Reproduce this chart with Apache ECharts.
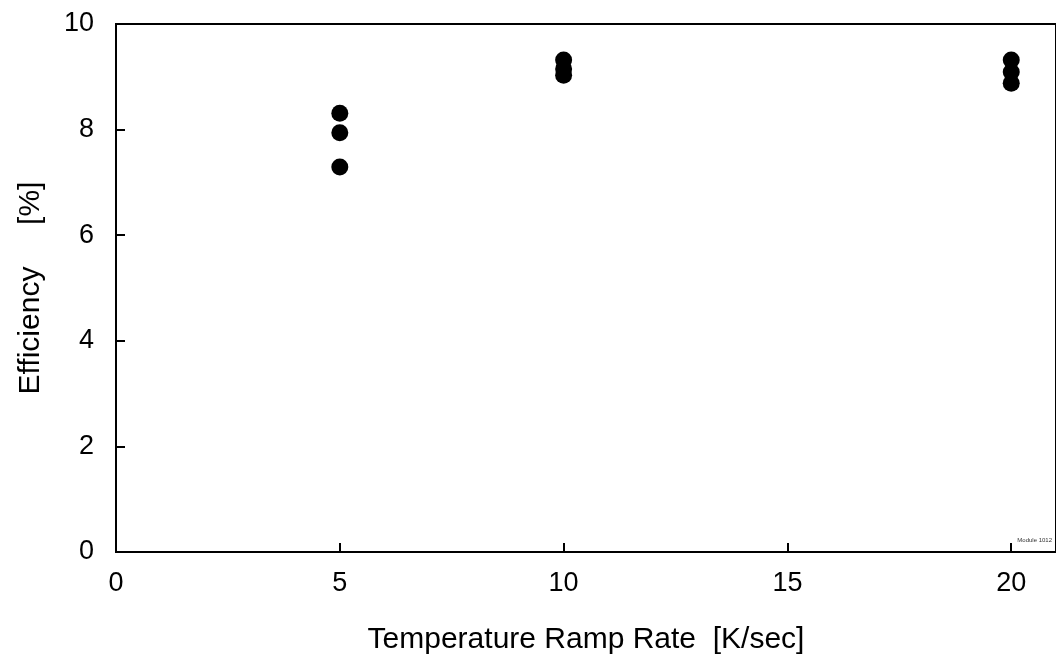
<!DOCTYPE html>
<html>
<head>
<meta charset="utf-8">
<script src="https://cdn.jsdelivr.net/npm/echarts@6/dist/echarts.min.js"></script>
<style>
  html, body { margin: 0; padding: 0; background: #fff; }
  #chart { width: 1056px; height: 668px; }
</style>
</head>
<body>
<div id="chart"></div>
<script>
// ramp rate [K/sec] and measured efficiency [%]
const rampRates = [5, 5, 5, 10, 10, 10, 20, 20, 20];
const efficiency = [8.31, 7.94, 7.29, 9.32, 9.15, 9.03, 9.32, 9.09, 8.88];
const xTicks = [0, 5, 10, 15, 20];
const yTicks = [0, 2, 4, 6, 8, 10];

const points = rampRates.map((r, i) => [r, efficiency[i]]);
const font = '"Liberation Sans", Arial, sans-serif';

let myChart = echarts.init(document.getElementById('chart'));
myChart.setOption({
    animation: false,
    grid: {
        left: 116, top: 24, bottom: 116, right: -5,
        show: true, borderColor: '#000', borderWidth: 2
    },
    xAxis: {
        type: 'value',
        min: 0, max: 21, interval: 5,
        name: 'Temperature Ramp Rate  [K/sec]',
        nameLocation: 'middle',
        nameGap: 73,
        nameTextStyle: { fontFamily: font, fontSize: 30, color: '#000' },
        axisLine: { lineStyle: { color: '#000', width: 2 } },
        axisTick: { inside: true, length: 9, lineStyle: { color: '#000', width: 2 } },
        axisLabel: {
            fontFamily: font, fontSize: 27, color: '#000', margin: 18,
            showMaxLabel: false,
            formatter: v => xTicks.includes(v) ? String(v) : ''
        },
        splitLine: { show: false }
    },
    yAxis: {
        type: 'value',
        min: 0, max: 10, interval: 2,
        name: 'Efficiency     [%]',
        nameLocation: 'middle',
        nameGap: 70,
        nameTextStyle: { fontFamily: font, fontSize: 30, color: '#000' },
        axisLine: { lineStyle: { color: '#000', width: 2 } },
        axisTick: { inside: true, length: 9, lineStyle: { color: '#000', width: 2 } },
        axisLabel: {
            fontFamily: font, fontSize: 27, color: '#000', margin: 22,
            formatter: v => yTicks.includes(v) ? String(v) : ''
        },
        splitLine: { show: false }
    },
    graphic: [{
        type: 'text',
        right: 4, top: 537,
        style: { text: 'Module 1012', fontFamily: font, fontSize: 6, fill: '#333' }
    }],
    series: [{
        type: 'scatter',
        data: points,
        symbol: 'circle',
        symbolSize: 17,
        itemStyle: { color: '#000', opacity: 1 }
    }]
});
</script>
</body>
</html>
